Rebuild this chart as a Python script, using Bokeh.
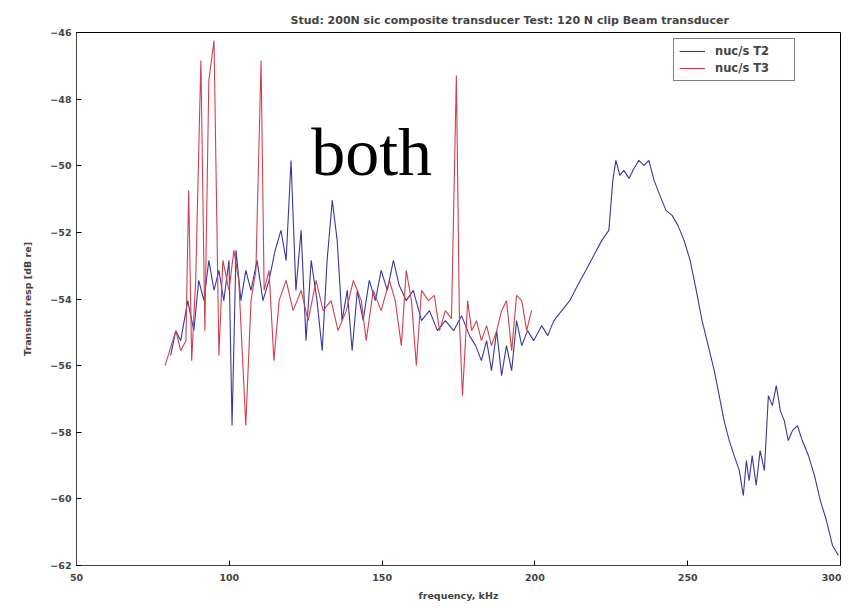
from bokeh.plotting import figure
from bokeh.models import FixedTicker, Legend, LegendItem, Range1d
from bokeh.core.properties import value
from bokeh.embed import file_html
from bokeh.resources import INLINE

title_text = "Stud: 200N sic composite transducer  Test: 120 N clip Beam transducer"
x_label = "frequency, kHz"
y_label = "Transmit resp [dB re]"
series_names = ["nuc/s T2", "nuc/s T3"]
x_ticks = [50, 100, 150, 200, 250, 300]
y_ticks = [-62, -60, -58, -56, -54, -52, -50, -48, -46]

t2_freq = [80.8, 82.5, 84.1, 86.4, 88.4, 90.0, 91.7, 93.3, 95.0, 96.6, 98.2, 99.9, 100.9, 102.2, 103.8,
           105.4, 107.1, 109.1, 111.0, 113.0, 115.0, 116.9, 118.6, 120.2, 121.8, 123.5, 125.1, 126.8,
           128.7, 130.4, 132.0, 133.7, 135.3, 136.9, 138.6, 140.2, 141.9, 143.8, 145.8, 147.8, 149.7,
           151.7, 153.7, 155.6, 157.9, 160.2, 162.9, 165.5, 168.1, 170.7, 173.4, 176.0, 178.6, 180.6,
           182.5, 184.2, 185.8, 187.5, 189.1, 190.7, 192.4, 194.0, 195.7, 197.6, 199.6, 202.2, 204.2,
           206.2, 208.8, 211.4, 214.0, 216.7, 219.3, 221.9, 224.2, 225.5, 226.5, 227.8, 229.1, 230.8,
           232.4, 234.0, 235.7, 237.3, 239.0, 240.9, 242.9, 244.9, 246.8, 248.8, 250.8, 252.8, 254.7,
           256.7, 258.7, 260.3, 261.9, 263.6, 265.2, 266.9, 268.2, 269.2, 270.1, 271.1, 272.4, 273.7,
           275.1, 276.4, 277.7, 279.0, 280.3, 281.6, 282.9, 284.3, 285.9, 287.5, 289.5, 291.5, 293.4,
           295.4, 297.4, 299.3]
t2_db = [-55.70, -54.95, -55.25, -54.05, -54.95, -53.44, -54.05, -52.84, -53.74, -53.14, -54.05, -52.84,
         -57.80, -52.54, -54.05, -53.14, -53.74, -52.84, -54.05, -53.44, -52.54, -51.94, -52.84, -49.84,
         -53.74, -51.94, -55.25, -52.84, -54.05, -55.55, -52.84, -51.04, -52.24, -54.65, -53.74, -55.55,
         -53.74, -54.65, -53.44, -54.05, -53.14, -53.74, -52.84, -53.59, -54.05, -53.74, -54.65, -54.35,
         -54.95, -54.65, -54.95, -54.50, -55.10, -55.40, -55.85, -55.25, -56.15, -54.95, -56.30, -55.40,
         -56.15, -54.65, -55.40, -54.95, -55.25, -54.80, -55.10, -54.65, -54.35, -54.05, -53.59, -53.14,
         -52.69, -52.24, -51.94, -50.44, -49.84, -50.29, -50.14, -50.38, -50.08, -49.84, -49.99, -49.84,
         -50.44, -50.89, -51.34, -51.49, -51.79, -52.24, -52.84, -53.74, -54.65, -55.40, -56.15, -56.90,
         -57.65, -58.25, -58.70, -59.15, -59.90, -58.85, -59.45, -58.70, -59.60, -58.55, -59.15, -56.90,
         -57.20, -56.60, -57.35, -57.65, -58.25, -57.95, -57.80, -58.25, -58.70, -59.30, -60.05, -60.65,
         -61.40, -61.70]

t3_freq = [79.0, 82.5, 84.1, 85.8, 86.7, 87.7, 89.0, 90.7, 92.0, 93.3, 95.0, 96.6, 97.9, 99.9, 101.5,
           103.1, 105.4, 107.1, 108.7, 110.4, 111.4, 113.0, 114.6, 116.3, 118.6, 120.9, 123.5, 125.8,
           128.4, 130.7, 133.3, 135.6, 138.3, 140.6, 143.2, 144.8, 147.1, 149.7, 152.4, 154.3, 156.3,
           157.9, 159.6, 161.2, 162.9, 165.2, 167.1, 168.8, 170.7, 172.7, 174.3, 175.3, 176.3, 178.0,
           179.3, 180.9, 182.5, 184.2, 185.8, 187.5, 189.1, 190.7, 192.4, 194.0, 195.7, 197.3, 198.9]
t3_db = [-56.00, -54.95, -55.55, -55.25, -50.74, -55.85, -53.44, -46.84, -54.95, -47.44, -46.24, -55.70,
         -52.84, -53.74, -52.54, -53.44, -57.80, -54.05, -53.14, -46.84, -53.74, -53.14, -55.85, -54.05,
         -53.44, -54.35, -53.74, -54.65, -53.44, -54.35, -54.05, -54.95, -54.35, -53.44, -54.05, -55.25,
         -53.74, -54.35, -53.44, -54.05, -55.40, -53.14, -54.05, -56.00, -53.74, -54.05, -53.89, -54.95,
         -54.35, -54.59, -47.29, -54.65, -56.90, -54.05, -54.95, -54.65, -55.25, -54.80, -55.40, -54.95,
         -54.35, -54.05, -55.55, -53.89, -54.05, -54.95, -54.35]

overlay_text = "both"

p = figure(width=841, height=606, output_backend="svg", toolbar_location=None,
           x_range=Range1d(50, 300), y_range=Range1d(-62, -46),
           min_border_left=76, min_border_right=1, min_border_top=32, min_border_bottom=41)
p.background_fill_color = "white"
p.border_fill_color = "white"
p.outline_line_color = "black"
p.outline_line_width = 1
p.grid.visible = False

p.title.text = title_text
p.title.align = "left"
p.title.offset = 214
p.title.text_font = "DejaVu Sans"
p.title.text_font_size = "11px"
p.title.text_font_style = "bold"
p.title.standoff = 12

for ax in (p.xaxis[0], p.yaxis[0]):
    ax.major_tick_in = 5
    ax.major_tick_out = 0
    ax.minor_tick_line_color = None
    ax.axis_line_color = "#444444"
    ax.major_label_text_font = "DejaVu Sans"
    ax.major_label_text_font_size = "9.5px"
    ax.major_label_text_font_style = "bold"
    ax.axis_label_text_font = "DejaVu Sans"
    ax.axis_label_text_font_size = "9.5px"
    ax.axis_label_text_font_style = "bold"
p.xaxis.ticker = FixedTicker(ticks=x_ticks)
p.yaxis.ticker = FixedTicker(ticks=y_ticks)
p.xaxis.axis_label = x_label
p.yaxis.axis_label = y_label
p.xaxis.major_label_standoff = 8
p.xaxis.axis_label_standoff = 6
p.yaxis.axis_label_standoff = 14

r1 = p.line(t2_freq, t2_db, line_color="#3a3a9a", line_width=1.1)
r2 = p.line(t3_freq, t3_db, line_color="#d04050", line_width=1.1)

p.text(x=[126.8], y=[-49.6], text=[overlay_text], text_font=value("Liberation Serif"),
       text_font_size="68px", text_color="black", text_baseline="alphabetic", text_align="left")

legend = Legend(items=[LegendItem(label=series_names[0], renderers=[r1]),
                       LegendItem(label=series_names[1], renderers=[r2])],
                location=(597, 484))
legend.label_text_font = "DejaVu Sans"
legend.label_text_font_size = "11.5px"
legend.label_text_font_style = "bold"
legend.border_line_color = "black"
legend.glyph_height = 14
legend.label_height = 14
legend.label_width = 74
legend.spacing = 3
legend.padding = 5
legend.margin = 0
legend.glyph_width = 26
legend.label_standoff = 10
p.add_layout(legend)

open("out.html", "w").write(file_html(p, INLINE))
